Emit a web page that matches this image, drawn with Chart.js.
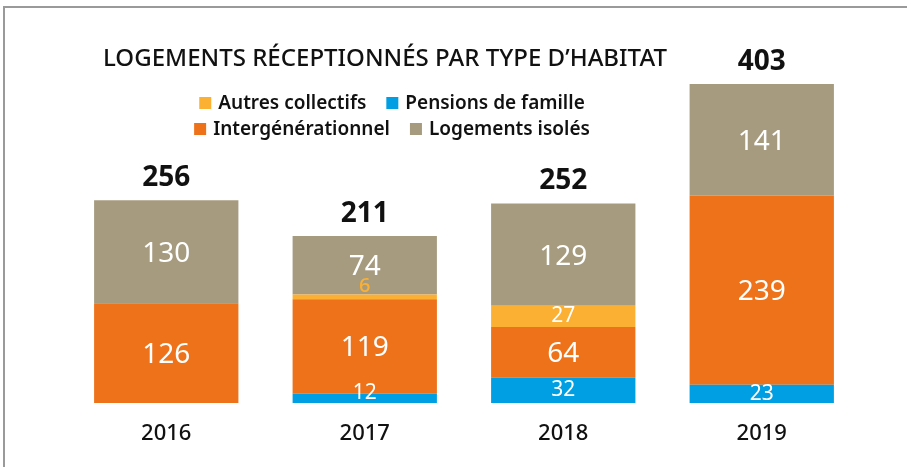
<!DOCTYPE html>
<html>
<head>
<meta charset="utf-8">
<script src="https://cdn.jsdelivr.net/npm/chart.js@4"></script>
<style>
  body { margin: 0; background: #fff; }
  #wrap { width: 907px; height: 467px; }
</style>
</head>
<body>
<div id="wrap"><canvas id="myChart" width="907" height="467"></canvas></div>
<script>
// données
var years = ["2016", "2017", "2018", "2019"];
var pensions = [0, 12, 32, 23];
var interGen = [126, 119, 64, 239];
var autres = [0, 6, 27, 0];
var isoles = [130, 74, 129, 141];
var totals = [256, 211, 252, 403];

var chartTitle = "LOGEMENTS RÉCEPTIONNÉS PAR TYPE D\u2019HABITAT";
var legendOrder = ["Autres collectifs", "Pensions de famille", "Intergénérationnel", "Logements isolés"];

var colBlue = "#009FE3";
var colOrange = "#EE7219";
var colYellow = "#FBB034";
var colGrey = "#A69B7F";

var FONT = "'Noto Sans', sans-serif";

// cadre, titre, légende
var decorPlugin = {
    id: "decor",
    beforeDraw: function (chart) {
        var ctx = chart.ctx;
        ctx.save();
        ctx.strokeStyle = "#9a9a9a";
        ctx.lineWidth = 2;
        ctx.beginPath();
        ctx.moveTo(4, 467);
        ctx.lineTo(4, 7);
        ctx.lineTo(907, 7);
        ctx.stroke();
        ctx.restore();
    },
    afterDraw: function (chart) {
        var ctx = chart.ctx;
        ctx.save();
        // titre
        ctx.fillStyle = "#111";
        ctx.font = "500 24px " + FONT;
        ctx.textBaseline = "alphabetic";
        var w = ctx.measureText(chartTitle).width;
        ctx.translate(103, 66);
        ctx.scale(564 / w, 1);
        ctx.fillText(chartTitle, 0, 0);
        ctx.restore();

        // légende sur deux lignes
        var colors = {};
        chart.data.datasets.forEach(function (d) { colors[d.label] = d.backgroundColor; });
        var rows = [[legendOrder[0], legendOrder[1]], [legendOrder[2], legendOrder[3]]];
        var rowY = [103, 129];
        ctx.save();
        ctx.font = "600 19px " + FONT;
        ctx.textBaseline = "middle";
        rows.forEach(function (row, r) {
            var widths = row.map(function (t) { return 12 + 7 + ctx.measureText(t).width; });
            var total = widths[0] + widths[1] + 20;
            var x = 392 - total / 2;
            row.forEach(function (t, k) {
                ctx.fillStyle = colors[t];
                ctx.fillRect(x, rowY[r] - 6, 12, 12);
                ctx.fillStyle = "#111";
                ctx.fillText(t, x + 19, rowY[r] + 1);
                x += widths[k] + 20;
            });
        });
        ctx.restore();
    }
};

// étiquettes des valeurs et totaux
var labelPlugin = {
    id: "valueLabels",
    afterDatasetsDraw: function (chart) {
        var ctx = chart.ctx;
        ctx.save();
        ctx.textAlign = "center";
        ctx.textBaseline = "middle";
        chart.data.datasets.forEach(function (ds, i) {
            var meta = chart.getDatasetMeta(i);
            meta.data.forEach(function (bar, j) {
                var v = ds.data[j];
                if (!v) return;
                var h = bar.base - bar.y;
                var cy = (bar.y + bar.base) / 2;
                if (h < 12) {
                    // petit segment : étiquette décalée
                    if (ds.label === "Autres collectifs") {
                        ctx.fillStyle = ds.backgroundColor;
                        ctx.font = "500 20px " + FONT;
                        ctx.fillText(v, bar.x, bar.y - 8);
                        return;
                    }
                    cy = bar.base - 10;
                }
                ctx.fillStyle = "#fff";
                ctx.font = (h > 40 ? "400 28px " : "400 21px ") + FONT;
                ctx.fillText(v, bar.x, cy + (h > 40 ? 2 : 0));
            });
        });
        // totaux
        var last = chart.getDatasetMeta(chart.data.datasets.length - 1);
        ctx.fillStyle = "#111";
        ctx.font = "bold 28px " + FONT;
        last.data.forEach(function (bar, j) {
            ctx.fillText(totals[j], bar.x, bar.y - 22);
        });
        ctx.restore();
    }
};

new Chart("myChart", {
    type: "bar",
    data: {
        labels: years,
        datasets: [
            { label: "Pensions de famille", data: pensions, backgroundColor: colBlue },
            { label: "Intergénérationnel", data: interGen, backgroundColor: colOrange },
            { label: "Autres collectifs", data: autres, backgroundColor: colYellow },
            { label: "Logements isolés", data: isoles, backgroundColor: colGrey }
        ]
    },
    options: {
        responsive: false,
        animation: false,
        layout: { padding: { left: 67, right: 46, top: 84, bottom: 24 } },
        datasets: { bar: { categoryPercentage: 1, barPercentage: 0.727 } },
        plugins: {
            legend: { display: false },
            title: { display: false },
            tooltip: { enabled: false }
        },
        scales: {
            x: {
                stacked: true,
                grid: { display: false },
                border: { display: false },
                afterFit: function (scale) { scale.height = 40; },
                ticks: { color: "#111", padding: 10, font: { family: FONT, size: 22, weight: "500" } }
            },
            y: {
                stacked: true,
                display: false,
                min: 0,
                max: 403
            }
        }
    },
    plugins: [decorPlugin, labelPlugin]
});
</script>
</body>
</html>
